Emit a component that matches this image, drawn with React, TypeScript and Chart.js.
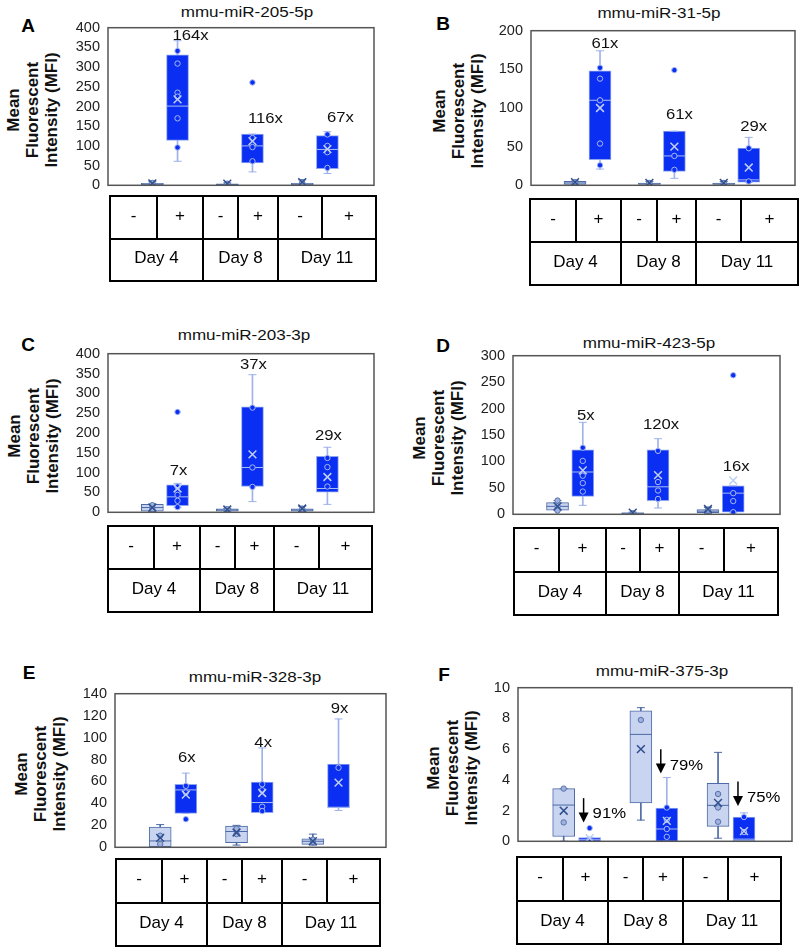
import React, { useEffect, useRef } from "react";
import { Chart, registerables } from "chart.js";

Chart.register(...registerables);

const FONT = '"Liberation Sans", Arial, Helvetica, sans-serif';

// ---------------- data ----------------
const dayLabels = ["Day 4", "Day 8", "Day 11"];
const treatmentLabels = ["-", "+"];
const panelLetters = ["A", "B", "C", "D", "E", "F"];
const panelTitles = [
  "mmu-miR-205-5p",
  "mmu-miR-31-5p",
  "mmu-miR-203-3p",
  "mmu-miR-423-5p",
  "mmu-miR-328-3p",
  "mmu-miR-375-3p",
];
const yAxisMax = [400, 200, 400, 300, 140, 10];
const yAxisStep = [50, 50, 50, 50, 20, 2];

// each box: [whiskerLow, q1, median, q3, whiskerHigh]; order: D4-, D4+, D8-, D8+, D11-, D11+
const boxesA = [[0.5, 1.5, 3, 5, 9], [61, 114, 201, 331, 367], [0.5, 1, 2, 4, 6], [34, 57, 100, 130, 130], [0.5, 1.5, 3, 5, 14], [30, 42, 91, 126, 136]];
const meansA = [5, 218, 4, 112, 8, 92];
const pointsA = [[3, 6], [341, 309, 235, 225, 170, 96], [2, 4], [261, 120, 97, 61], [3, 7], [129, 100, 84, 44]];
const foldA = ["164x", "116x", "67x"];
const foldYA = [378, 169, 171];

const boxesB = [[0.5, 1, 3, 5, 5.5], [21, 33, 110, 148, 174], [0.5, 1, 2, 3, 5], [9, 18, 38, 70, 70], [0.5, 1, 2, 3, 5], [4, 4, 7, 48, 62]];
const meansB = [4, 100, 3, 50, 3, 23];
const pointsB = [[2, 4], [152, 138, 110, 54, 26], [2, 3], [149, 38, 20], [2, 3], [48, 5]];
const foldB = ["61x", "61x", "29x"];
const foldYB = [183, 91, 76];

const boxesC = [[2, 3, 12, 20, 20], [12, 17, 39, 69, 73], [1, 3, 6, 9, 10], [27, 65, 113, 266, 347], [2, 3, 6, 9, 15], [20, 51, 60, 141, 164]];
const meansC = [12, 60, 7, 146, 9.5, 89];
const pointsC = [[18, 8], [253, 65, 44, 29, 13], [5, 8], [264, 113, 64], [6, 9], [137, 114, 65]];
const foldC = ["7x", "37x", "29x"];
const foldYC = [103, 371, 192];

const boxesD = [[7, 8, 15, 22, 26], [17, 34, 80, 122, 174], [0.5, 1, 2, 3, 4], [12, 26, 52, 122, 143], [2, 3, 6, 9, 13], [3, 4, 40, 54, 54]];
const meansD = [15, 83, 3, 74, 10, 64];
const pointsD = [[26, 15, 7], [126, 101, 73, 59, 43], [2], [120, 61, 45, 29], [6, 9], [263, 40, 25, 4]];
const foldD = ["5x", "120x", "16x"];
const foldYD = [186, 169, 89];

const boxesE = [[0.6, 0.6, 5.8, 18.4, 20.7], [30.8, 30.8, 52.3, 57.5, 67.6], [2, 4.3, 14.4, 19.3, 20], [31.6, 31.6, 40.8, 59.5, 90.6], [2, 2.6, 5.5, 7.8, 12], [33.6, 36, 36.5, 75.9, 117]];
const meansE = [8.6, 48, 13.5, 49.5, 5.7, 59];
const pointsE = [[10.6, 3], [56, 50, 25.6], [17, 12], [57.5, 52, 37, 33], [5, 7], [72.5]];
const foldE = ["6x", "4x", "9x"];
const foldYE = [81, 95.5, 126];

const boxesF = [[0, 0.31, 2.36, 3.43, 3.43], [0, 0, 0.1, 0.25, 0.25], [1.38, 2.5, 6.96, 8.5, 8.7], [0, 0, 0.8, 2.16, 4.15], [0.2, 0.97, 2.34, 3.78, 5.79], [0, 0.04, 0.14, 1.58, 1.85]];
const meansF = [1.99, 0.2, 6.0, 1.33, 2.5, 0.66];
const pointsF = [[3.43, 1.23], [0.86, 0.1], [7.9], [2.2, 1.4, 0.8, 0.29], [3.08, 2.2, 1.27], [1.58, 0.6]];
const dropF = ["91%", "79%", "75%"];
const dropTopF = [2.81, 6.0, 3.9];
const dropTipF = [1.23, 4.41, 2.3];
const dropLabelYF = [1.79, 4.93, 2.85];

const boxSets = [boxesA, boxesB, boxesC, boxesD, boxesE, boxesF];
const meanSets = [meansA, meansB, meansC, meansD, meansE, meansF];
const pointSets = [pointsA, pointsB, pointsC, pointsD, pointsE, pointsF];
const foldSets = [foldA, foldB, foldC, foldD, foldE, null];
const foldYSets = [foldYA, foldYB, foldYC, foldYD, foldYE, null];

// ---------------- layout / style ----------------
const layouts = [
  { plot: { l: 108, t: 25, r: 374, b: 192 }, title: { x: 247, y: 12 }, letter: { x: 28, y: 26 }, ylab: 32, labelDx: 13, table: { l: 110, r: 376, y: [196, 239, 281], c: [157, 203, 238, 278, 322] } },
  { plot: { l: 531, t: 28, r: 795, b: 192 }, title: { x: 659, y: 13 }, letter: { x: 443, y: 24 }, ylab: 458, labelDx: 5, table: { l: 530, r: 798, y: [199, 242, 285], c: [576, 621, 657, 696, 741] } },
  { plot: { l: 108, t: 351, r: 374, b: 519 }, title: { x: 244, y: 335 }, letter: { x: 28, y: 345 }, ylab: 33, labelDx: 1, table: { l: 108, r: 372, y: [526, 569, 612], c: [154, 200, 235, 274, 319] } },
  { plot: { l: 513, t: 353, r: 780, b: 521 }, title: { x: 649, y: 343 }, letter: { x: 443, y: 346 }, ylab: 438, labelDx: 3, table: { l: 514, r: 778, y: [528, 572, 615], c: [559, 606, 640, 679, 724] } },
  { plot: { l: 115, t: 691, r: 386, b: 854 }, title: { x: 255, y: 677 }, letter: { x: 29, y: 673 }, ylab: 40, labelDx: 1, table: { l: 116, r: 380, y: [859, 903, 946], c: [162, 207, 242, 282, 327] } },
  { plot: { l: 518, t: 685, r: 792, b: 848 }, title: { x: 662, y: 671 }, letter: { x: 444, y: 675 }, ylab: 452, labelDx: 0, table: { l: 517, r: 781, y: [857, 901, 944], c: [563, 608, 643, 683, 728] } },
];

const X_MIN = -0.76;
const X_MAX = 2.79;
const PAIR_OFF = 0.168;
const ARROW_OFF = 0.09;

const COL = {
  plusFill: "#0b2ff2",
  plusBorder: "#8fa6ee",
  plusWhisker: "#9fb2ec",
  plusMedian: "#a9bcf2",
  plusMean: "#c0cff6",
  plusPtFill: "#0b2ff2",
  plusPtBorder: "#a5b8f0",
  minusFill: "#c8d4f0",
  minusBorder: "#4d6aa6",
  minusWhisker: "#4d6aa6",
  minusMedian: "#4d6aa6",
  minusMean: "#2f4f8f",
  minusPtFill: "#9fb1dc",
  minusPtBorder: "#5873ad",
};

const PADL = 62, PADT = 14, PADR = 14, PADB = 10;

function Panel({ p }: { p: number }) {
  const ref = useRef<HTMLCanvasElement>(null);
  const L = layouts[p];
  const pw = L.plot.r - L.plot.l;
  const ph = L.plot.b - L.plot.t;
  const cw = pw + PADL + PADR;
  const chh = ph + PADT + PADB;

  useEffect(() => {
    const boxes = boxSets[p];
    const means = meanSets[p];
    const points = pointSets[p];
    const isPlus = (i: number) => i % 2 === 1;
    const xs = boxes.map((_, i) => Math.floor(i / 2) + (isPlus(i) ? PAIR_OFF : -PAIR_OFF));

    const whiskerData = boxes.map((b, i) => ({ x: xs[i], y: [b[0], b[4]] }));
    const boxData = boxes.map((b, i) => ({ x: xs[i], y: [b[1], b[3]] }));
    const capData: any[] = [];
    boxes.forEach((b, i) => {
      capData.push({ x: xs[i], y: b[0], k: i });
      capData.push({ x: xs[i], y: b[4], k: i });
    });
    const medData = boxes.map((b, i) => ({ x: xs[i], y: b[2], k: i }));
    const ptData: any[] = [];
    points.forEach((arr, i) => arr.forEach((v) => ptData.push({ x: xs[i], y: v, k: i })));
    const meanData = means.map((m, i) => ({ x: xs[i], y: m, k: i }));

    const pick = (d: any[], a: string, b: string) => d.map((q) => (isPlus(q.k) ? a : b));

    const overlay = {
      id: "overlay" + p,
      afterDatasetsDraw(chart: any) {
        const { ctx, chartArea: a, scales } = chart;
        const sx = scales.x, sy = scales.y;
        ctx.save();
        ctx.strokeStyle = "#555";
        ctx.lineWidth = 1.5;
        ctx.strokeRect(a.left, a.top, a.right - a.left, a.bottom - a.top);
        ctx.fillStyle = "#111";
        ctx.font = `14.5px ${FONT}`;
        ctx.textBaseline = "middle";
        const folds = foldSets[p];
        const foldY = foldYSets[p];
        if (folds && foldY) {
          ctx.textAlign = "center";
          folds.forEach((t, g) => {
            const px = sx.getPixelForValue(xs[2 * g + 1]) + L.labelDx;
            const py = sy.getPixelForValue(foldY[g]);
            ctx.save();
            ctx.translate(px, py);
            ctx.scale(1.15, 1);
            ctx.fillText(t, 0, 0);
            ctx.restore();
          });
        }
        if (p === 5) {
          ctx.strokeStyle = "#000";
          ctx.fillStyle = "#000";
          ctx.lineWidth = 1.5;
          dropF.forEach((t, g) => {
            const ax = sx.getPixelForValue(g + ARROW_OFF);
            const y0 = sy.getPixelForValue(dropTopF[g]);
            const y1 = sy.getPixelForValue(dropTipF[g]);
            ctx.beginPath();
            ctx.moveTo(ax, y0);
            ctx.lineTo(ax, y1 - 9);
            ctx.stroke();
            ctx.beginPath();
            ctx.moveTo(ax - 5, y1 - 10);
            ctx.lineTo(ax + 5, y1 - 10);
            ctx.lineTo(ax, y1);
            ctx.closePath();
            ctx.fill();
            ctx.save();
            ctx.textAlign = "left";
            ctx.translate(ax + 9, sy.getPixelForValue(dropLabelYF[g]));
            ctx.scale(1.15, 1);
            ctx.fillText(t, 0, 0);
            ctx.restore();
          });
        }
        ctx.restore();
      },
    };

    const chart = new Chart(ref.current as HTMLCanvasElement, {
      type: "bar",
      data: {
        datasets: [
          {
            type: "bar",
            data: whiskerData,
            grouped: false,
            barThickness: 1,
            maxBarThickness: 1,
            backgroundColor: boxes.map((_, i) => (isPlus(i) ? COL.plusWhisker : COL.minusWhisker)),
            borderWidth: 0,
            order: 6,
          },
          {
            type: "bar",
            data: boxData,
            grouped: false,
            barThickness: 22,
            maxBarThickness: 22,
            backgroundColor: boxes.map((_, i) => (isPlus(i) ? COL.plusFill : COL.minusFill)),
            borderColor: boxes.map((_, i) => (isPlus(i) ? COL.plusBorder : COL.minusBorder)),
            borderWidth: 1,
            borderSkipped: false,
            order: 5,
          },
          {
            type: "scatter",
            data: capData,
            pointStyle: "line",
            pointRadius: 4,
            pointBorderWidth: 1,
            pointBorderColor: pick(capData, COL.plusWhisker, COL.minusWhisker),
            order: 4,
          },
          {
            type: "scatter",
            data: medData,
            pointStyle: "line",
            pointRadius: 11,
            pointBorderWidth: 1,
            pointBorderColor: pick(medData, COL.plusMedian, COL.minusMedian),
            order: 3,
          },
          {
            type: "scatter",
            data: ptData,
            pointStyle: "circle",
            pointRadius: 2.7,
            pointBorderWidth: 1,
            pointBackgroundColor: pick(ptData, COL.plusPtFill, COL.minusPtFill),
            pointBorderColor: pick(ptData, COL.plusPtBorder, COL.minusPtBorder),
            order: 2,
          },
          {
            type: "scatter",
            data: meanData,
            pointStyle: "crossRot",
            pointRadius: 5.5,
            pointBorderWidth: 1.5,
            pointBorderColor: pick(meanData, COL.plusMean, COL.minusMean),
            order: 1,
          },
        ] as any,
      },
      options: {
        responsive: false,
        animation: false,
        events: [],
        layout: { padding: { left: 0, top: PADT, right: PADR, bottom: PADB } },
        plugins: { legend: { display: false }, tooltip: { enabled: false } },
        scales: {
          x: { type: "linear", min: X_MIN, max: X_MAX, display: false, offset: false },
          y: {
            type: "linear",
            min: 0,
            max: yAxisMax[p],
            grid: { display: false, drawTicks: false },
            border: { display: false },
            ticks: { stepSize: yAxisStep[p], autoSkip: false, padding: 8, color: "#222", font: { family: FONT, size: 14.5 } },
            afterFit: (s: any) => {
              s.width = PADL;
            },
          },
        },
      } as any,
      plugins: [overlay],
    });
    return () => chart.destroy();
  }, [p]);

  return (
    <canvas
      ref={ref}
      width={cw}
      height={chh}
      style={{ position: "absolute", left: L.plot.l - PADL, top: L.plot.t - PADT, width: cw, height: chh }}
    />
  );
}

function Table({ p }: { p: number }) {
  const t = layouts[p].table;
  const lines: any[] = [];
  const line = (key: string, x: number, y: number, w: number, h: number) =>
    lines.push(<div key={key} style={{ position: "absolute", left: x, top: y, width: w, height: h, background: "#000" }} />);
  t.y.forEach((yy, i) => line("h" + i, t.l - 1, yy - 1, t.r - t.l + 2, 2));
  line("vl", t.l - 1, t.y[0] - 1, 2, t.y[2] - t.y[0] + 2);
  line("vr", t.r - 1, t.y[0] - 1, 2, t.y[2] - t.y[0] + 2);
  t.c.forEach((cx, i) => {
    const full = i === 1 || i === 3;
    line("c" + i, cx - 1, t.y[0] - 1, 2, (full ? t.y[2] : t.y[1]) - t.y[0] + 2);
  });
  const topEdges = [t.l, ...t.c, t.r];
  const botEdges = [t.l, t.c[1], t.c[3], t.r];
  const texts: any[] = [];
  for (let i = 0; i < 6; i++) {
    texts.push(
      <div key={"t" + i} style={{ position: "absolute", left: (topEdges[i] + topEdges[i + 1]) / 2, top: (t.y[0] + t.y[1]) / 2 - 2, transform: "translate(-50%,-50%)", font: `17px ${FONT}`, whiteSpace: "nowrap" }}>
        {treatmentLabels[i % 2]}
      </div>
    );
  }
  for (let i = 0; i < 3; i++) {
    texts.push(
      <div key={"d" + i} style={{ position: "absolute", left: (botEdges[i] + botEdges[i + 1]) / 2, top: (t.y[1] + t.y[2]) / 2 - 2, transform: "translate(-50%,-50%)", font: `17px ${FONT}`, whiteSpace: "nowrap" }}>
        {dayLabels[i]}
      </div>
    );
  }
  return (
    <>
      {lines}
      {texts}
    </>
  );
}

function Labels({ p }: { p: number }) {
  const L = layouts[p];
  const cy = (L.plot.t + L.plot.b) / 2 + 1;
  return (
    <>
      <div style={{ position: "absolute", left: L.title.x, top: L.title.y, transform: "translate(-50%,-50%) scaleX(1.1)", font: `15.5px ${FONT}`, whiteSpace: "nowrap", color: "#111" }}>
        {panelTitles[p]}
      </div>
      <div style={{ position: "absolute", left: L.letter.x, top: L.letter.y, transform: "translate(-50%,-50%)", font: `bold 19px ${FONT}`, color: "#000" }}>
        {panelLetters[p]}
      </div>
      <div style={{ position: "absolute", left: L.ylab, top: cy, transform: "translate(-50%,-50%) rotate(-90deg)", font: `bold 17px ${FONT}`, lineHeight: "19px", textAlign: "center", whiteSpace: "nowrap", color: "#111" }}>
        Mean
        <br />
        Fluorescent
        <br />
        Intensity (MFI)
      </div>
    </>
  );
}

export default function App() {
  const idx = [0, 1, 2, 3, 4, 5];
  return (
    <div style={{ position: "absolute", left: 0, top: 0, width: 800, height: 950, background: "#fff", overflow: "hidden" }}>
      {idx.map((p) => (
        <React.Fragment key={p}>
          <Labels p={p} />
          <Panel p={p} />
          <Table p={p} />
        </React.Fragment>
      ))}
    </div>
  );
}
